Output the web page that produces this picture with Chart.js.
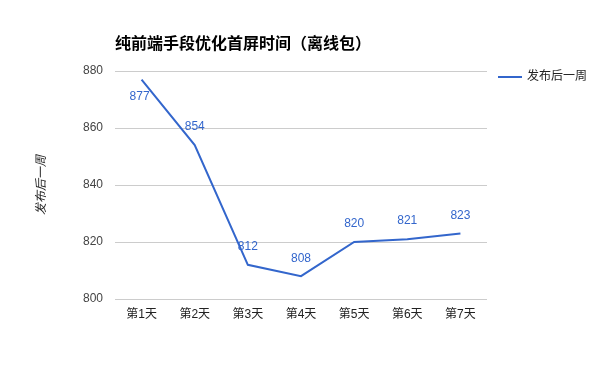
<!DOCTYPE html>
<html>
<head>
<meta charset="utf-8">
<script src="https://cdn.jsdelivr.net/npm/chart.js@4"></script>
<style>
  html, body { margin: 0; padding: 0; background: #fff; }
  #wrap { width: 600px; height: 371px; }
</style>
</head>
<body>
<div id="wrap"><canvas id="firstScreenChart"></canvas></div>
<script>
const categories = ["第1天", "第2天", "第3天", "第4天", "第5天", "第6天", "第7天"];
const weekAfter = [877, 854, 812, 808, 820, 821, 823];
const yTicks = [800, 820, 840, 860, 880];

const chartTitle = "纯前端手段优化首屏时间（离线包）";
const seriesName = "发布后一周";
const FONT = "Arial, 'Liberation Sans', 'Noto Sans CJK SC', sans-serif";
const BLUE = "#3366cc";

// title, legend and value labels drawn by hand around the plot
const extras = {
  id: "extras",
  afterDraw(chart) {
    const c = chart.ctx;
    const area = chart.chartArea;
    c.save();
    c.font = "bold 16px " + FONT;
    c.fillStyle = "#000";
    c.textBaseline = "middle";
    c.textAlign = "left";
    c.fillText(chartTitle, area.left, 45);

    // legend
    const lx = area.right + 11;
    const ly = area.top + 6;
    c.strokeStyle = BLUE;
    c.lineWidth = 2;
    c.beginPath();
    c.moveTo(lx, ly);
    c.lineTo(lx + 24, ly);
    c.stroke();
    c.font = "12px " + FONT;
    c.fillStyle = "#222";
    c.fillText(seriesName, lx + 29, ly);

    const meta = chart.getDatasetMeta(0);
    c.fillStyle = BLUE;
    c.textAlign = "center";
    meta.data.forEach((pt, i) => {
      const below = i === 0;
      c.fillText(String(weekAfter[i]), pt.x - (below ? 2 : 0), pt.y + (below ? 17 : -18));
    });
    c.restore();
  }
};

const ctx = document.getElementById("firstScreenChart").getContext("2d");
let firstScreenChart = new Chart(ctx, {
  type: "line",
  data: {
    labels: categories,
    datasets: [
      {
        label: seriesName,
        data: weekAfter,
        borderColor: BLUE,
        backgroundColor: BLUE,
        borderWidth: 2,
        pointRadius: 0,
        tension: 0,
      },
    ],
  },
  options: {
    responsive: true,
    maintainAspectRatio: false,
    animation: false,
    layout: { padding: { top: 71, right: 113, left: 0, bottom: 0 } },
    plugins: {
      tooltip: { enabled: false },
      title: { display: false },
      legend: { display: false },
    },
    scales: {
      x: {
        offset: true,
        grid: { display: false, drawTicks: false },
        border: { display: false },
        ticks: { color: "#222", padding: 8, font: { family: FONT, size: 12 } },
        afterFit(scale) { scale.height = 72; },
      },
      y: {
        min: 800,
        max: 880,
        afterBuildTicks(scale) { scale.ticks = yTicks.map((v) => ({ value: v })); },
        grid: { color: "#cccccc", drawTicks: false },
        border: { display: false },
        ticks: { color: "#444", padding: 12, font: { family: FONT, size: 12 } },
        title: {
          display: true,
          text: seriesName,
          color: "#222",
          padding: { top: 34, bottom: 0 },
          font: { family: FONT, size: 12, style: "italic" },
        },
        afterFit(scale) { scale.width = 115; },
      },
    },
  },
  plugins: [extras],
});
</script>
</body>
</html>
